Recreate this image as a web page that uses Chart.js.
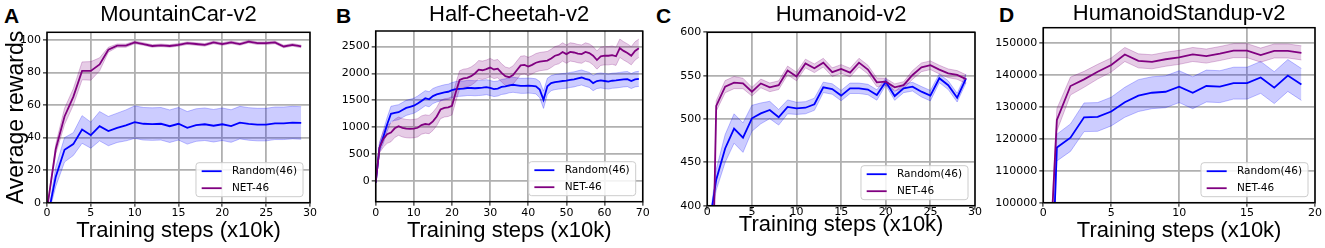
<!DOCTYPE html>
<html><head><meta charset="utf-8">
<script src="https://cdn.jsdelivr.net/npm/chart.js@4.4.1/dist/chart.umd.min.js"></script>
<style>
html,body{margin:0;padding:0;background:#fff;overflow:hidden;width:1325px;height:248px;position:relative;}
canvas{position:absolute;top:0;}
.lab{position:absolute;font:bold 21px "Liberation Sans",Arial,sans-serif;line-height:21px;color:#000;}
</style></head><body>
<div class="lab" style="left:4px;top:5px">A</div>
<div class="lab" style="left:336px;top:5px">B</div>
<div class="lab" style="left:656px;top:5px">C</div>
<div class="lab" style="left:999px;top:4px">D</div>
<script>
// ---------- DATA ----------
const seriesLabels = ['Random(46)', 'NET-46'];

// A: MountainCar-v2
const stepsA = [0,1,2,3,4,5,6,7,8,9,10,11,12,13,14,15,16,17,18,19,20,21,22,23,24,25,26,27,28,29];
const randA = [-11,16,32.5,36,45,41.5,47,44,46,47.5,49.5,48.5,48.3,48.5,47,48.5,46,47.7,48.2,47.3,48.2,47.1,49.2,48.4,48,48,48.8,48.8,49.2,49];
const randA_sd = [0,6,7.5,7,8.5,8,9,9,9,9.5,10,10,10,10,10,10,10,10,10,10,10,10,10,10,10,10,10,10,10,10];
const netA = [-4,33,53,65,81,81,85,94,96.5,96.5,98.5,97.5,96.3,96.7,96.3,97,98,97.5,97,98.5,97.5,98.5,97.5,99,98,98,98.5,96,97,96];
const netA_sd = [0,3,5,5,5.5,5.7,4,1.5,1,1,0.8,0.8,0.8,0.8,0.8,0.8,0.8,0.8,0.8,0.8,0.8,0.8,0.8,0.8,0.8,0.8,0.8,0.8,0.8,0.8];
const xTicksA = [0,5,10,15,20,25,30];
const yTicksA = [0,20,40,60,80,100];

// B: Half-Cheetah-v2
const stepsB = [0,1,2,3,4,5,6,7,8,9,10,11,12,13,14,15,16,17,18,19,20,21,22,23,24,25,26,27,28,29,30,31,32,33,34,35,36,37,38,39,40,41,42,43,44,45,46,47,48,49,50,51,52,53,54,55,56,57,58,59,60,61,62,63,64,65,66,67,68,69];
const randB = [-30,620,820,1050,1250,1265,1280,1320,1360,1380,1400,1440,1490,1540,1520,1580,1610,1630,1650,1660,1690,1710,1715,1720,1730,1730,1725,1730,1735,1745,1730,1710,1720,1750,1760,1780,1790,1780,1770,1770,1775,1770,1760,1700,1510,1760,1820,1840,1850,1860,1865,1880,1890,1910,1925,1900,1880,1820,1860,1870,1860,1850,1865,1870,1880,1890,1895,1860,1890,1900];
const randB_sd = [0,80,120,130,140,140,140,140,140,140,140,140,140,140,140,140,140,140,140,140,140,140,140,140,140,140,140,140,140,140,140,140,140,140,140,140,140,140,140,140,140,140,140,150,160,150,140,140,140,140,140,140,140,140,140,140,140,140,140,140,140,140,140,140,140,140,140,140,140,140];
const netB = [-30,620,780,870,900,980,1020,990,975,970,975,990,1040,1060,1050,1110,1200,1330,1360,1370,1400,1650,1880,1910,1920,1950,2000,2070,2060,2080,2110,2075,2090,2010,1950,1930,1970,2060,2150,2160,2130,2160,2200,2220,2230,2240,2280,2330,2350,2400,2360,2400,2390,2370,2360,2400,2380,2330,2250,2320,2330,2330,2340,2320,2470,2420,2380,2330,2420,2470];
const netB_sd = [0,100,150,170,170,170,170,170,170,170,170,170,170,170,170,170,170,170,170,170,170,170,170,170,170,170,170,170,170,170,170,170,170,170,170,170,170,170,170,170,170,170,170,170,170,170,170,170,170,170,170,170,170,170,170,170,170,170,170,170,170,170,170,170,170,170,170,170,170,170];
const xTicksB = [0,10,20,30,40,50,60,70];
const yTicksB = [0,500,1000,1500,2000,2500];

// C: Humanoid-v2
const stepsC = [0,1,2,3,4,5,6,7,8,9,10,11,12,13,14,15,16,17,18,19,20,21,22,23,24,25,26,27,28,29];
const randC = [362,430,466,489,478.5,500.8,506.5,510.4,502,514,512.3,513,517,536.5,534.6,527,535.4,535.4,534,527.7,543,526.5,535.4,537.3,531.5,526.9,547,539,524.6,547];
const randC_sd = [0,12,16,17,17,15,12,10,9,8,7,7,7,6,6,6,6,6,6,6,4,5,5,5,6,6,5,5,5,5];
const netC = [0,515,537.3,542,541,531.5,541,536.5,539,556,549,564,558.5,565,554,557.7,553.5,565,557,542.3,543,536.5,539,550.8,559.6,562,557,552.7,550.8,546];
const netC_sd = [0,6,7,7,6,5,5,5,5,5,5,5,5,5,5,5,5,5,5,5,4,4,4,5,5,5,5,5,5,5];
const xTicksC = [0,5,10,15,20,25,30];
const yTicksC = [400,450,500,550,600];

// D: HumanoidStandup-v2
const stepsD = [0,1,2,3,4,5,6,7,8,9,10,11,12,13,14,15,16,17,18,19];
const randD = [0,117300,120400,126800,126900,128600,131500,133600,134500,134800,136400,134500,136600,136400,137500,137500,139300,136100,139900,137100];
const randD_sd = [0,4200,4300,4500,4500,4500,4700,5000,5000,5000,5000,5000,5000,5000,5000,5000,5000,5000,5000,5000];
const netD = [42000,126000,136600,138700,141100,143200,146500,144500,144200,145000,145600,146500,146000,146800,147700,147700,146300,147600,147600,147000];
const netD_sd = [0,3500,2800,2500,2300,2200,2200,2200,2200,2200,2200,2200,2200,2200,2200,2200,2200,2200,2200,2200];
const xTicksD = [0,5,10,15,20];
const yTicksD = [100000,110000,120000,130000,140000,150000];

// ---------- STYLE ----------
const BLUE = '#0000ff', PURPLE = '#800080';
const BLUE_FILL = 'rgba(0,0,255,0.2)', PURPLE_FILL = 'rgba(128,0,128,0.2)';
const BLUE_EDGE = 'rgba(0,0,255,0.25)', PURPLE_EDGE = 'rgba(128,0,128,0.25)';
const TICK_FONT = {family: '"DejaVu Sans", sans-serif', size: 11};
const BIG_FONT = {family: '"Liberation Sans", Arial, sans-serif', size: 22, weight: 'normal'};

const framePlugin = {
  id: 'frame',
  afterDatasetsDraw(chart) {
    const {ctx, chartArea: a} = chart;
    ctx.save();
    ctx.strokeStyle = '#000'; ctx.lineWidth = 1.5;
    ctx.strokeRect(a.left, a.top, a.right - a.left, a.bottom - a.top);
    ctx.restore();
  }
};
const legendPlugin = {
  id: 'boxLegend',
  afterDatasetsDraw(chart) {
    const {ctx, chartArea: a} = chart;
    const items = chart.data.datasets.filter(d => d.isMain);
    ctx.save();
    ctx.font = '10.5px "DejaVu Sans", sans-serif';
    const tw = Math.max(...items.map(d => ctx.measureText(d.label).width));
    const w = 36 + tw + 6, h = 34;
    const x = a.right - 7 - w, y = a.bottom - 6 - h;
    ctx.beginPath();
    ctx.roundRect(x, y, w, h, 3);
    ctx.fillStyle = 'rgba(255,255,255,0.85)'; ctx.fill();
    ctx.strokeStyle = '#cccccc'; ctx.lineWidth = 1; ctx.stroke();
    items.forEach((d, i) => {
      const cy = y + 8.5 + i * 17;
      ctx.strokeStyle = d.borderColor; ctx.lineWidth = 1.8;
      ctx.beginPath(); ctx.moveTo(x + 5.7, cy); ctx.lineTo(x + 25.7, cy); ctx.stroke();
      ctx.fillStyle = '#000'; ctx.textBaseline = 'middle'; ctx.textAlign = 'left';
      ctx.fillText(d.label, x + 36, cy);
    });
    ctx.restore();
  }
};

const panels = [
  {left: 0, width: 318, yW: 47, padR: 8, title: 'MountainCar-v2', tpt: 2.2, tpb: 3.7, xH: 45.3, xPad: 0, xtpb: 4,
   xMin: 0, xMax: 30, yMin: 0, yMax: 104.7, xTicks: xTicksA, yTicks: yTicksA, steps: stepsA,
   rand: randA, randSd: randA_sd, net: netA, netSd: netA_sd, yTitle: 'Average rewards'},
  {left: 330, width: 321, yW: 45.7, padR: 8.3, title: 'Half-Cheetah-v2', tpt: 2.2, tpb: 2.4, xH: 46.3, xPad: 1, xtpb: 4,
   xMin: 0, xMax: 70, yMin: -385, yMax: 2790, xTicks: xTicksB, yTicks: yTicksB, steps: stepsB,
   rand: randB, randSd: randB_sd, net: netB, netSd: netB_sd},
  {left: 660, width: 323, yW: 47.3, padR: 8, title: 'Humanoid-v2', tpt: 2.2, tpb: 3.7, xH: 42.3, xPad: -4, xtpb: 10,
   xMin: 0, xMax: 30, yMin: 400, yMax: 600, xTicks: xTicksC, yTicks: yTicksC, steps: stepsC,
   rand: randC, randSd: randC_sd, net: netC, netSd: netC_sd},
  {left: 985, width: 340, yW: 58.3, padR: 10, title: 'HumanoidStandup-v2', tpt: 0.9, tpb: 0.4, xH: 45.3, xPad: 0, xtpb: 4,
   xMin: 0, xMax: 20, yMin: 100000, yMax: 154900, xTicks: xTicksD, yTicks: yTicksD, steps: stepsD,
   rand: randD, randSd: randD_sd, net: netD, netSd: netD_sd}
];

panels.forEach((p, idx) => {
  const cv = document.createElement('canvas');
  cv.width = p.width; cv.height = 248;
  cv.style.left = p.left + 'px';
  cv.style.width = p.width + 'px'; cv.style.height = '248px';
  document.body.appendChild(cv);
  const pts = arr => arr.map((v, i) => ({x: p.steps[i], y: v}));
  const series = [
    {label: seriesLabels[0], mean: p.rand, sd: p.randSd, color: BLUE, fill: BLUE_FILL, edge: BLUE_EDGE},
    {label: seriesLabels[1], mean: p.net, sd: p.netSd, color: PURPLE, fill: PURPLE_FILL, edge: PURPLE_EDGE}
  ];
  const ds = [];
  series.forEach((s, k) => {
    ds.push({data: pts(s.mean.map((m, i) => m + s.sd[i])), borderColor: s.edge, backgroundColor: s.fill,
             borderWidth: 1, fill: '+1', pointRadius: 0, order: 10 - k});
    ds.push({data: pts(s.mean.map((m, i) => m - s.sd[i])), borderColor: s.edge, backgroundColor: s.fill,
             borderWidth: 1, fill: false, pointRadius: 0, order: 10 - k});
  });
  series.forEach((s, k) => {
    ds.push({label: s.label, isMain: true, data: pts(s.mean), borderColor: s.color, backgroundColor: s.color,
             borderWidth: 1.8, fill: false, pointRadius: 0, order: 5 - k});
  });
  new Chart(cv, {
    type: 'line',
    data: {datasets: ds},
    options: {
      responsive: false, animation: false, events: [],
      layout: {padding: {left: 0, right: p.padR, top: 0, bottom: 0}},
      plugins: {
        legend: {display: false}, tooltip: {enabled: false},
        title: {display: true, text: p.title, fullSize: false, color: '#000', font: BIG_FONT,
                padding: {top: p.tpt, bottom: p.tpb}}
      },
      scales: {
        x: {
          type: 'linear', min: p.xMin, max: p.xMax,
          afterBuildTicks: s => { s.ticks = p.xTicks.map(v => ({value: v})); },
          afterFit: s => { s.height = p.xH; },
          grid: {color: '#b0b0b0', lineWidth: 1.8, tickColor: '#000', tickLength: 4, tickWidth: 1},
          border: {display: false},
          ticks: {color: '#000', font: TICK_FONT, padding: p.xPad, maxRotation: 0, autoSkip: false, callback: v => String(v)},
          title: {display: true, text: 'Training steps (x10k)', color: '#000', font: BIG_FONT, padding: {top: 0, bottom: p.xtpb}}
        },
        y: {
          type: 'linear', min: p.yMin, max: p.yMax,
          afterBuildTicks: s => { s.ticks = p.yTicks.map(v => ({value: v})); },
          afterFit: s => { s.width = p.yW; },
          grid: {color: '#b0b0b0', lineWidth: 1.8, tickColor: '#000', tickLength: 4, tickWidth: 1},
          border: {display: false},
          ticks: {color: '#000', font: TICK_FONT, padding: 2, autoSkip: false, callback: v => String(v)},
          title: {display: !!p.yTitle, text: p.yTitle || '', color: '#000',
                  font: {family: '"Liberation Sans", Arial, sans-serif', size: 23, weight: 'normal'},
                  padding: {top: 3, bottom: 0}}
        }
      }
    },
    plugins: [framePlugin, legendPlugin]
  });
});
</script>
</body></html>
